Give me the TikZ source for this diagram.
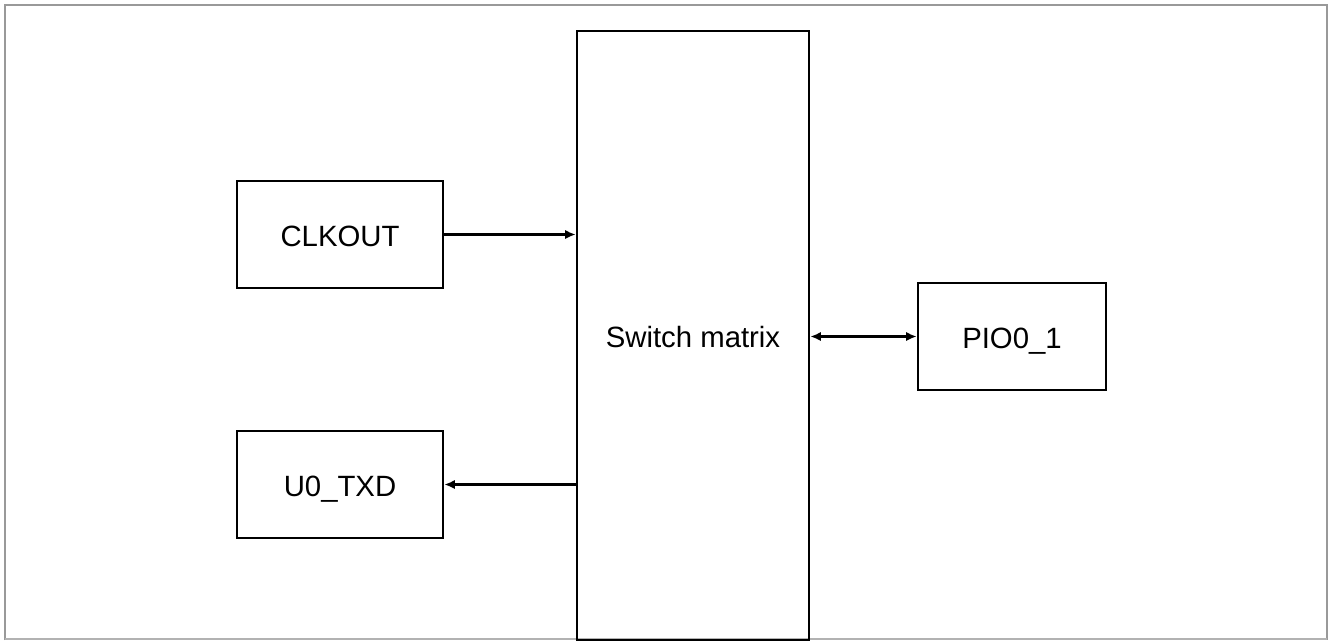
\documentclass[tikz,border=0pt]{standalone}
\usepackage{fontspec}
\setmainfont{Liberation Sans}
\usetikzlibrary{arrows.meta}
\begin{document}
\begin{tikzpicture}[x=0.75pt,y=-0.75pt,
  blk/.style={draw=black,line width=1.9pt,inner sep=0pt,text height=18.5pt,text depth=0pt,font=\fontsize{22}{26}\selectfont},
  conn/.style={line width=1.6pt,-{Latex[length=8pt,width=7pt]}},
  bconn/.style={line width=1.6pt,{Latex[length=8pt,width=7pt]}-{Latex[length=8pt,width=7pt]}}]
\useasboundingbox (0,0) rectangle (1328,640);
\draw[gray!80,line width=1.5pt] (4.5,640) -- (4.5,5) -- (1326.5,5) -- (1326.5,640);
\draw[gray!60,line width=1.5pt] (4.5,639) -- (1326.5,639);
\node[blk,minimum width=232*0.75pt,minimum height=609*0.75pt] (sw) at (693,335.5) {Switch matrix};
\node[blk,minimum width=206*0.75pt,minimum height=107*0.75pt] (clk) at (340,234.5) {CLKOUT};
\node[blk,minimum width=206*0.75pt,minimum height=107*0.75pt] (txd) at (340,484.5) {U0\_TXD};
\node[blk,minimum width=188*0.75pt,minimum height=107*0.75pt] (pio) at (1012,336.5) {PIO0\_1};
\draw[conn] (clk.east) -- (clk.east -| sw.west);
\draw[conn] (txd.east -| sw.west) -- (txd.east);
\draw[bconn] (pio.west -| sw.east) -- (pio.west);
\end{tikzpicture}
\end{document}
